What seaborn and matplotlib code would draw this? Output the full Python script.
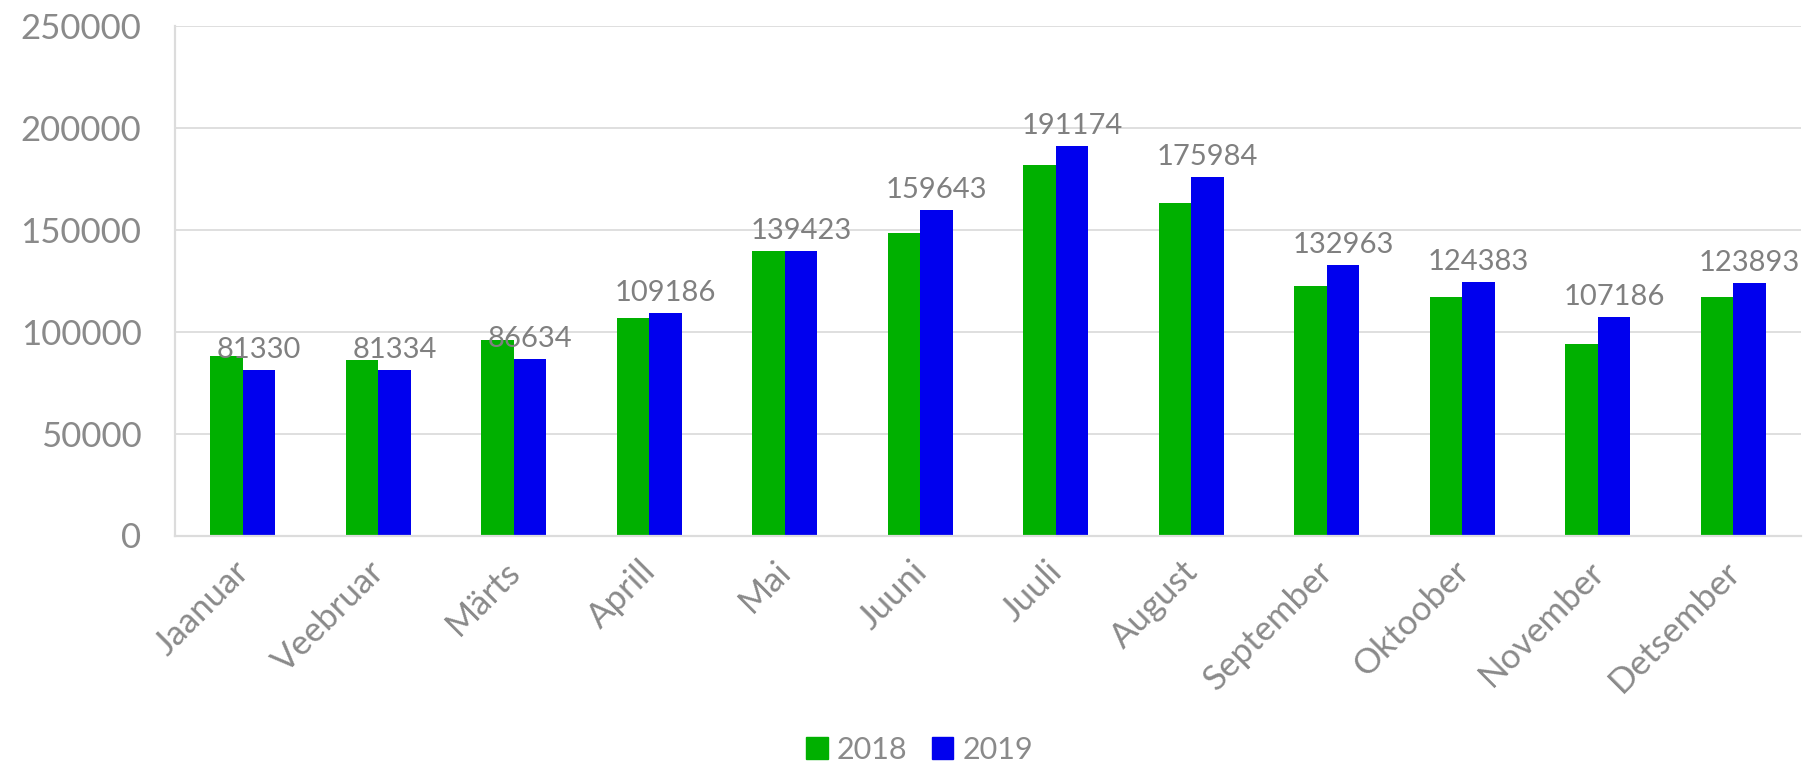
import pandas as pd
import seaborn as sns
import matplotlib.pyplot as plt
from matplotlib.transforms import ScaledTranslation

# Data
months = ["Jaanuar", "Veebruar", "Märts", "Aprill", "Mai", "Juuni",
          "Juuli", "August", "September", "Oktoober", "November", "Detsember"]
years = ["2018", "2019"]
values_2018 = [88000, 86000, 95800, 106500, 139800, 148200,
               181600, 163300, 122500, 116800, 94000, 117200]
values_2019 = [81330, 81334, 86634, 109186, 139423, 159643,
               191174, 175984, 132963, 124383, 107186, 123893]
yticks = [0, 50000, 100000, 150000, 200000, 250000]

colors = ["#00b000", "#0000ee"]
text_gray = "#8a8a8a"
grid_gray = "#dcdcdc"

df = pd.DataFrame({
    "month": months * 2,
    "year": [years[0]] * len(months) + [years[1]] * len(months),
    "value": values_2018 + values_2019,
})

sns.set_style("white")
plt.rcParams["font.family"] = ["Lato", "DejaVu Sans"]

fig = plt.figure(figsize=(18.03, 7.65), dpi=100)
ax = fig.add_axes([0.097, 0.30, 0.902, 0.666])

sns.barplot(data=df, x="month", y="value", hue="year", palette=colors,
            width=0.48, gap=0, saturation=1, ax=ax, legend=False,
            linewidth=0, errorbar=None)

# labels only on 2019 bars
ax.bar_label(ax.containers[1], labels=[str(v) for v in values_2019],
             padding=5, fontsize=21, color="#808080")

ax.set_ylim(0, 250000)
ax.set_xlim(-0.5, 11.5)
ax.set_yticks(yticks)
ax.set_yticklabels([str(t) for t in yticks])
ax.set_xlabel("")
ax.set_ylabel("")

ax.yaxis.grid(True, color=grid_gray, linewidth=1.3)
ax.set_axisbelow(True)
for side in ["top", "right"]:
    ax.spines[side].set_visible(False)
for side in ["left", "bottom"]:
    ax.spines[side].set_color(grid_gray)
    ax.spines[side].set_linewidth(1.6)

ax.tick_params(axis="y", length=0, pad=24, labelsize=25, labelcolor=text_gray)
ax.tick_params(axis="x", length=0, pad=14, labelsize=25, labelcolor=text_gray)
shift = ScaledTranslation(-0.1, 0, fig.dpi_scale_trans)
for lbl in ax.get_xticklabels():
    lbl.set_rotation(45)
    lbl.set_ha("right")
    lbl.set_rotation_mode("anchor")
    lbl.set_transform(lbl.get_transform() + shift)

handles = [plt.Rectangle((0, 0), 1, 1, color=c) for c in colors]
fig.legend(handles, years, loc="center", bbox_to_anchor=(0.51, 0.02),
           ncol=2, frameon=False, fontsize=22, labelcolor=text_gray,
           handlelength=0.7, handleheight=0.7, handletextpad=0.3,
           columnspacing=0.8)

fig.savefig("out.png", dpi=100)
